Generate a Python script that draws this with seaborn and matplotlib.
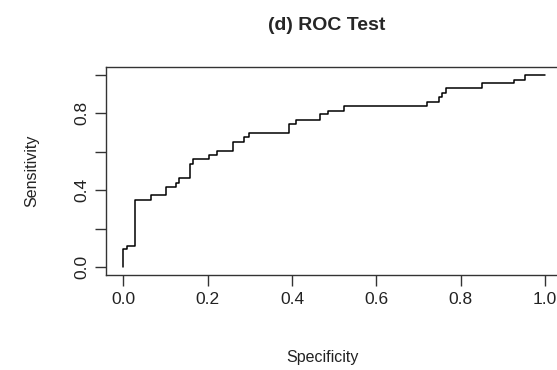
import pandas as pd
import matplotlib
matplotlib.use("Agg")
import matplotlib.pyplot as plt
import seaborn as sns

sns.set_style("ticks")
plt.rcParams['font.family'] = ['Liberation Sans', 'DejaVu Sans']

# ROC curve corners, drawn as a step line
fpr = [0.0, 0.0, 0.008, 0.028, 0.066, 0.101, 0.124, 0.131, 0.159, 0.166,
       0.204, 0.222, 0.261, 0.287, 0.298, 0.392, 0.410, 0.466, 0.485, 0.523,
       0.719, 0.748, 0.756, 0.765, 0.850, 0.926, 0.953, 1.0]
tpr = [0.0, 0.096, 0.113, 0.348, 0.374, 0.417, 0.440, 0.466, 0.536, 0.560,
       0.583, 0.605, 0.650, 0.675, 0.696, 0.742, 0.765, 0.795, 0.812, 0.840,
       0.857, 0.884, 0.905, 0.929, 0.955, 0.974, 1.0, 1.0]
x_ticks = [0.0, 0.2, 0.4, 0.6, 0.8, 1.0]
x_labels = ['0.0', '0.2', '0.4', '0.6', '0.8', '1.0']
y_ticks = [0.0, 0.2, 0.4, 0.6, 0.8, 1.0]
y_labels = ['0.0', '', '0.4', '', '0.8', '']

df = pd.DataFrame({'Specificity': fpr, 'Sensitivity': tpr})

fig = plt.figure(figsize=(5.57, 3.70), dpi=100)
ax = fig.add_axes([0.1912, 0.2568, 0.818, 0.562])

sns.lineplot(data=df, x='Specificity', y='Sensitivity', ax=ax, sort=False,
             estimator=None, color='black', linewidth=1.1, drawstyle='steps-post')

ax.set_xlim(-0.04, 1.04)
ax.set_ylim(-0.04, 1.04)
ax.set_xticks(x_ticks)
ax.set_xticklabels(x_labels)
ax.set_yticks(y_ticks)
ax.set_yticklabels(y_labels, rotation=90, va='center')
ax.tick_params(axis='both', length=8, width=1, color='#333333', labelsize=12.5,
               labelcolor='#222222')
ax.tick_params(axis='x', pad=4)
ax.tick_params(axis='y', pad=4)

for s in ax.spines.values():
    s.set_color('#333333')
    s.set_linewidth(1)

ax.set_xlabel('Specificity', fontsize=11.5, color='#222222')
ax.xaxis.set_label_coords(0.473, -0.36)
ax.set_ylabel('Sensitivity', fontsize=11.5, color='#222222')
ax.yaxis.set_label_coords(-0.148, 0.5)
ax.set_title('(d) ROC Test', fontsize=14, fontweight='bold', x=0.484, y=1.0, pad=27)

fig.savefig('out.png', dpi=100)
plt.close(fig)
